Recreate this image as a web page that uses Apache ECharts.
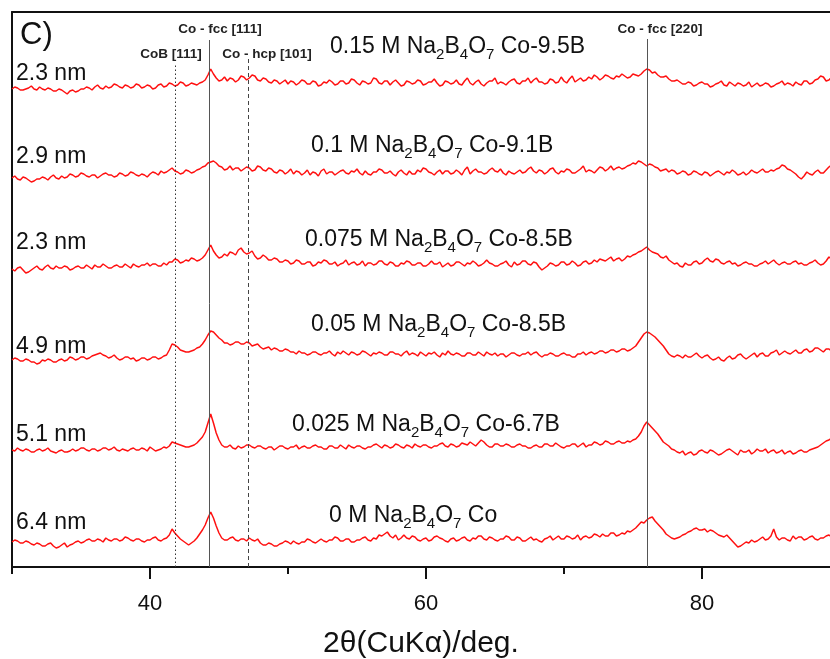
<!DOCTYPE html>
<html>
<head>
<meta charset="utf-8">
<script src="https://cdn.jsdelivr.net/npm/echarts@6/dist/echarts.min.js"></script>
<style>html,body{margin:0;padding:0;background:#fff}#c{width:830px;height:659px}</style>
</head>
<body>
<div id="c"></div>
<script>
// scan: 2theta from 30 deg, step 0.2 deg (300 points)
const scanStart = 30, scanStep = 0.2, scanCount = 300;

// intensities (a.u., relative to each trace's own baseline)
const s015 = [0,2,1,-1,-1,0,1,3,0,-1,2,0,-1,1,0,-2,-2,0,-1,-3,
 -5,-2,-1,-3,-2,0,0,2,1,-1,2,4,1,0,3,1,2,5,4,2,
 1,4,3,1,2,5,4,1,2,4,3,0,1,4,5,2,3,6,
 5,3,4,7,6,3,4,6,5,4,6,7,9,14, 20,15, 11,8,9,12,8,11,10,7,9,13,12,9,
 11,14,13,9,8,11,10,7,6,9,8,5,7,9,5,8,
 7,4,6,9,8,5,5,8,7,3,4,7,6,9,7,4,5,8,8,5,6,10,9,6,4,8,7,5,6,11,10,6,5,8,8,4,7,9,6,3,
 4,8,7,5,6,9,8,4,5,7,7,10,6,3,4,8,7,5,6,9,5,4,8,11,6,4,7,9,5,3,6,8,8,11,5,7,6,4,7,9,
 10,6,5,8,8,11,6,9,11,7,7,5,6,10,9,6,7,12,8,6,10,13,7,9,11,8,9,12,10,14,12,9,11,14,13,11,
 10,13,12,15,13,11,12,15,14,13,15,18, 20,19, 16,17,14,12,12,13,10,8,8,9,7,5,5,7,
 6,3,4,6,7,5,5,2,3,5,6,8,4,3,7,5,3,6,5,3,4,7,2,4,6,3,4,6,5,2,3,5,6,8,4,6,
 5,3,7,5,4,8,8,5,6,9,10,13,12,8,9,12,11,10];
const s010 = [0,2,-1,-2,1,0,-2,-4,-3,-1,-1,1,0,-2,1,3,0,-1,2,0,
 1,4,3,1,2,5,4,2,1,3,3,0,2,4,5,3,3,1,2,5,
 4,2,3,6,5,3,2,4,3,1,4,6,5,3,7,5,6,8,
 10,7,6,4,5,8,7,5,6,8,9,11,12,15, 16,17, 15,12,11,8,9,12,8,10,10,7,9,11,
 10,7,8,12,11,8,7,10,9,6,5,8,7,4,6,9,
 4,7,6,3,5,8,3,6,5,2,7,9,4,6,6,3,5,7,8,5,4,7,6,9,5,3,7,4,3,6,6,9,8,5,5,7,4,2,6,8,
 5,3,7,4,4,8,6,10,9,6,5,3,6,8,4,7,7,4,5,8,6,3,8,11,4,7,9,6,6,4,5,8,10,7,6,9,5,3,7,5,
 4,6,8,5,6,9,11,7,5,8,7,4,6,9,10,6,4,7,6,9,8,5,5,7,9,12,6,8,7,5,8,11,10,7,9,12,
 8,10,11,9,10,12,13,15,14,17,16,14, 12,14, 13,11,10,7,8,9,6,8,7,4,5,7,6,3,
 4,7,6,4,3,6,5,2,4,6,7,5,3,6,5,8,6,3,4,6,3,5,8,6,5,7,9,6,6,8,7,9,10,13,12,9,
 8,6,4,1,-1,2,6,4,3,6,8,5,5,8,11,13,14,15];
const s0075 = [0,-2,1,2,-1,-4,-3,-1,1,3,0,-1,2,4,1,0,3,1,1,3,
 2,-1,0,2,3,1,1,4,2,0,4,2,2,5,3,1,1,3,4,2,
 2,5,3,1,5,3,2,4,4,6,3,5,5,3,3,6,4,7,
 7,10,9,6,7,9,8,11,10,8,9,11,14,19, 24,18, 14,11,12,15,13,17,16,14,19,21,17,15,
 16,18,13,10,11,14,12,9,9,11,10,7,7,9,8,5,
 6,9,8,5,5,7,7,3,4,7,6,9,8,5,5,7,3,5,6,9,4,6,7,4,5,8,3,6,6,4,5,8,8,5,4,7,6,3,3,6,
 5,8,7,4,4,6,6,3,3,5,8,5,5,7,2,4,6,3,4,7,7,5,3,6,5,8,6,3,4,6,9,6,5,3,3,5,6,8,4,2,
 7,4,5,8,8,5,4,7,6,2,-1,1,3,6,5,3,4,7,7,4,5,8,6,3,4,7,8,5,6,9,7,10,9,8,10,12,
 8,10,11,8,10,13,12,14,15,17,18,20, 22,19, 17,16,15,12,11,13,9,7,5,6,3,2,6,4,
 4,7,8,5,6,9,11,8,7,10,9,6,5,7,8,5,6,3,4,6,7,5,5,3,3,5,6,8,5,7,9,6,4,6,7,5,
 5,7,8,5,6,4,4,6,7,9,6,4,5,8,12,10,8,11];
const s005 = [0,2,1,-1,-1,1,0,-2,-2,-4,-3,0,-1,1,0,-2,-2,0,1,-1,
 0,3,2,0,1,3,3,1,2,4,5,6,7,5,4,2,3,5,2,0,
 1,3,3,1,2,-1,0,2,2,0,1,3,3,1,2,4,5,10,
 16,15,13,10,9,8,8,9,10,12,13,16,20,25, 29,28, 25,22,20,17,17,15,16,18,18,16,16,18,
 17,14,15,16,13,11,12,13,10,12,11,9,9,11,10,8,
 8,6,9,7,7,5,6,8,8,6,5,7,7,9,6,4,8,6,9,7,5,8,7,5,6,9,8,6,4,7,6,8,7,5,5,8,8,6,6,4,
 7,9,5,7,6,4,8,6,4,7,6,8,5,3,7,5,9,6,5,7,6,4,4,7,7,5,5,8,6,4,8,6,5,7,4,6,6,3,5,7,
 7,5,4,6,6,8,5,7,8,5,3,5,5,7,6,4,4,6,7,5,5,3,3,6,6,8,5,7,8,6,7,9,9,7,8,10,
 10,8,9,11,11,9,10,12,14,18,22,26, 28,27, 25,23,20,17,14,10,6,4,3,5,4,2,5,3,
 3,5,7,4,2,4,5,2,0,1,3,0,-1,2,4,1,2,5,6,3,1,3,5,7,3,6,7,4,4,7,8,10,5,7,9,7,
 6,8,10,7,7,10,11,8,9,12,12,10,8,11,11,9,9,10];
const s0025 = [0,-1,2,0,-1,1,0,-2,-2,0,1,-1,0,2,-1,-2,-3,-1,0,-2,
 -2,-1,1,-1,0,2,2,0,-1,1,1,-1,0,2,2,0,1,3,0,-1,
 1,0,-1,1,2,0,0,2,1,-1,3,1,-1,0,1,3,2,4,
 8,7,6,5,4,3,3,4,5,7,10,13,18,27, 36,27, 17,10,5,3,3,5,2,1,4,2,3,5,
 5,3,2,4,4,2,1,3,3,0,2,4,4,2,1,3,
 3,5,1,3,4,2,2,4,5,3,3,1,1,4,4,2,2,5,3,1,5,3,2,4,4,2,1,3,3,5,6,4,2,5,4,2,3,6,5,3,
 2,5,4,2,6,4,3,5,5,3,2,4,4,6,7,4,3,6,5,3,4,7,6,5,8,6,4,7,10,8,5,3,3,6,6,4,4,6,5,3,
 3,5,6,4,4,2,2,4,5,3,3,6,6,4,4,7,5,3,2,4,4,6,6,3,5,7,3,5,5,8,7,5,6,9,8,6,
 6,8,9,7,7,9,8,10,11,14,18,24, 28,25, 22,19,16,12,8,6,4,1,0,-2,-3,-1,-5,-3,
 -2,-5,-4,-1,0,-2,-3,0,-1,-3,-5,-4,-2,0,1,-1,-3,-5,0,-2,-2,0,-4,-2,1,-1,-1,1,-3,-1,0,-3,-2,0,-4,-2,
 -1,-4,-3,-1,0,-2,-2,0,1,2,3,5,7,9,10,12,13,14];
const s000 = [0,2,1,-1,-1,1,0,-2,-3,-1,-2,-4,-4,-2,-1,-4,-6,-5,-3,-1,
 -5,-3,-2,0,1,-1,0,2,3,1,1,3,2,0,4,2,1,3,3,1,
 2,5,4,2,1,3,3,1,0,2,2,4,5,2,1,3,4,7,
 13,9,6,3,1,-1,-3,-1,1,4,8,12,17,24, 30,24, 16,9,4,2,2,4,5,2,1,3,3,1,
 4,2,1,3,-1,-3,-3,-1,-2,-4,-4,-2,-1,1,0,-2,
 1,-1,-2,0,0,3,2,0,-1,1,3,1,0,2,2,5,4,1,1,3,3,0,0,2,2,4,5,2,1,4,3,7,6,8,10,6,4,7,2,4,
 7,4,3,6,5,2,1,3,4,1,2,5,6,4,3,1,0,3,4,1,2,4,5,2,1,4,3,6,6,3,2,5,4,2,1,3,3,6,5,2,
 2,5,4,1,1,3,5,2,3,1,0,3,4,6,2,4,6,3,3,6,5,3,4,7,2,5,6,4,5,8,7,5,8,6,6,9,
 9,6,7,9,8,11,10,12,14,17,20,19, 22,24, 25,21,18,15,12,8,6,4,3,4,5,7,8,10,
 11,13,14,12,12,13,10,12,11,9,7,6,5,7,4,1,-2,-5,-4,-2,0,-1,2,0,1,3,5,2,3,6,13,5,2,4,4,2,
 1,6,3,5,5,2,3,5,6,3,2,4,4,6,7,5,9,8];

const traces = [s015, s010, s0075, s005, s0025, s000];
const traceOffsets = [478, 389, 298, 207, 117, 25];

const sampleNames = [
  '0.15 M Na{s|2}B{s|4}O{s|7} Co-9.5B',
  '0.1 M Na{s|2}B{s|4}O{s|7} Co-9.1B',
  '0.075 M Na{s|2}B{s|4}O{s|7} Co-8.5B',
  '0.05 M Na{s|2}B{s|4}O{s|7} Co-8.5B',
  '0.025 M Na{s|2}B{s|4}O{s|7} Co-6.7B',
  '0 M Na{s|2}B{s|4}O{s|7} Co'
];
const crystalliteSizes = ['2.3 nm', '2.9 nm', '2.3 nm', '4.9 nm', '5.1 nm', '6.4 nm'];

// reference reflections
const refNames = ['CoB [111]', 'Co - fcc [111]', 'Co - hcp [101]', 'Co - fcc [220]'];
const refAngles = [41.8, 44.3, 47.1, 76.0];
const refTops = [502, 527, 509, 528];

const majorTicks = [40, 60, 80];
const minorTicks = [30, 50, 70];

const angles = [];
for (let i = 0; i < scanCount; i++) angles.push(+(scanStart + i * scanStep).toFixed(2));

const chart = echarts.init(document.getElementById('c'));
const FONT = 'Liberation Sans, Arial, sans-serif';
const X_MAX = 89.28;

const refStyles = [
  {color: '#333', width: 1, type: [1.5, 2.5]},
  {color: '#555', width: 1, type: 'solid'},
  {color: '#444', width: 1, type: [4, 3]},
  {color: '#555', width: 1, type: 'solid'}
];

const series = traces.map((vals, k) => ({
  type: 'line',
  data: vals.map((v, i) => [angles[i], traceOffsets[k] + v]),
  symbol: 'none',
  lineStyle: {color: '#ff1010', width: 1.5},
  z: 3,
  silent: true,
  animation: false
}));

series.push({
  type: 'line', data: [], symbol: 'none', animation: false, silent: true,
  markLine: {
    symbol: 'none', silent: true, animation: false,
    label: {show: false},
    data: refAngles.map((a, i) => [
      {coord: [a, 0], lineStyle: refStyles[i]},
      {coord: [a, refTops[i]]}
    ])
  }
});

const graphics = [];
graphics.push({type: 'text', x: 20, y: 35, style: {text: 'C)', fontSize: 31, fontFamily: FONT, fill: '#111', verticalAlign: 'middle', align: 'left'}});
const sizeY = [74, 157, 243, 347, 435, 523];
const nameX = [330, 311, 305, 311, 292, 329];
const nameY = [47, 146, 240, 325, 425, 516];
crystalliteSizes.forEach((t, i) => graphics.push({
  type: 'text', x: 16, y: sizeY[i],
  style: {text: t, fontSize: 23, fontFamily: FONT, fill: '#111', verticalAlign: 'middle', align: 'left'}
}));
sampleNames.forEach((t, i) => graphics.push({
  type: 'text', x: nameX[i], y: nameY[i],
  style: {
    text: t, fontSize: 23, fontFamily: FONT, fill: '#111', verticalAlign: 'middle', align: 'left',
    rich: {s: {fontSize: 15, fontFamily: FONT, fill: '#111', lineHeight: 15, padding: [15, 0, 0, 0]}}
  }
}));
const refLabelX = [171, 220, 267, 660];
const refLabelY = [54, 29, 54, 29];
refNames.forEach((t, i) => graphics.push({
  type: 'text', x: refLabelX[i], y: refLabelY[i],
  style: {text: t, fontSize: 13.5, fontWeight: 'bold', fontFamily: FONT, fill: '#222', verticalAlign: 'middle', align: 'center'}
}));

chart.setOption({
  animation: false,
  backgroundColor: '#fff',
  grid: {left: 12, right: 0, top: 12, bottom: 92, outerBoundsMode: 'none', containLabel: false},
  xAxis: [
    {
      type: 'value', min: 30, max: X_MAX, position: 'bottom',
      name: '2θ(CuKα)/deg.', nameLocation: 'middle', nameGap: 62,
      nameTextStyle: {fontSize: 30, fontFamily: FONT, color: '#111'},
      axisLine: {show: true, lineStyle: {color: '#111', width: 2}},
      axisTick: {show: true, customValues: majorTicks, length: 12, lineStyle: {color: '#111', width: 2}},
      axisLabel: {show: true, customValues: majorTicks, fontSize: 22, fontFamily: FONT, color: '#111', margin: 26},
      splitLine: {show: false}
    },
    {
      type: 'value', min: 30, max: X_MAX, position: 'bottom',
      axisLine: {show: false},
      axisTick: {show: true, customValues: minorTicks, length: 7, lineStyle: {color: '#111', width: 2}},
      axisLabel: {show: false},
      splitLine: {show: false}
    },
    {
      type: 'value', min: 30, max: X_MAX, position: 'top',
      axisLine: {show: true, lineStyle: {color: '#111', width: 2}},
      axisTick: {show: false}, axisLabel: {show: false}, splitLine: {show: false}
    }
  ],
  yAxis: {
    type: 'value', min: 0, max: 555,
    axisLine: {show: true, lineStyle: {color: '#111', width: 2}},
    axisTick: {show: false}, axisLabel: {show: false}, splitLine: {show: false}
  },
  series: series,
  graphic: graphics
});
</script>
</body>
</html>
